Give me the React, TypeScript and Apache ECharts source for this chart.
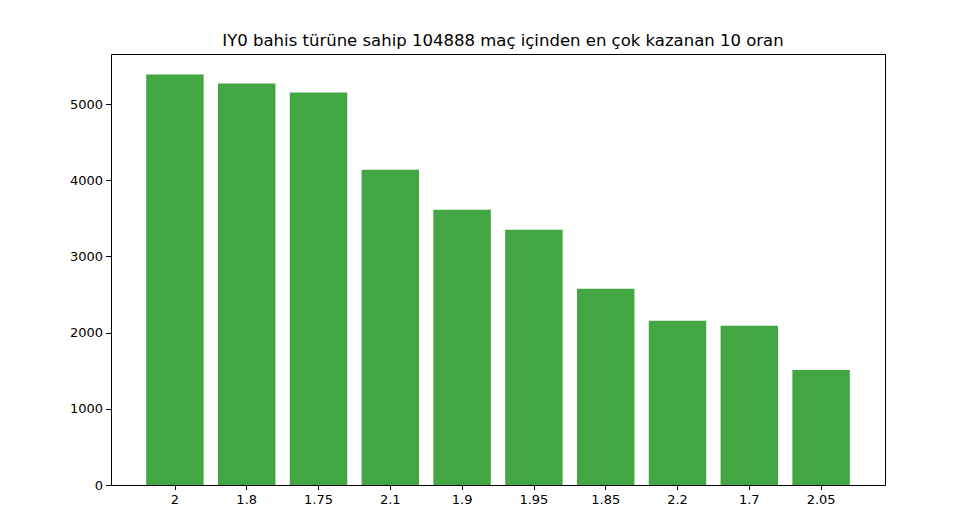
import React, { useEffect, useRef } from "react";
import * as echarts from "echarts";

const categories = ["2", "1.8", "1.75", "2.1", "1.9", "1.95", "1.85", "2.2", "1.7", "2.05"];
const counts = [5395, 5276, 5158, 4145, 3618, 3355, 2579, 2158, 2092, 1513];
const yTicks = [0, 1000, 2000, 3000, 4000, 5000];
const titleText = "IY0 bahis türüne sahip 104888 maç içinden en çok kazanan 10 oran";

export default function App() {
  const ref = useRef<HTMLDivElement>(null);
  useEffect(() => {
    if (!ref.current) return;
    const chart = echarts.init(ref.current, undefined, { renderer: "svg" });
    const font = "'DejaVu Sans', sans-serif";
    const yMax = Math.max(...counts) * 1.05;
    chart.setOption({
      animation: false,
      backgroundColor: "#ffffff",
      title: {
        text: titleText,
        left: 498,
        textAlign: "center",
        top: 27,
        textStyle: { fontFamily: font, fontSize: 16.5, fontWeight: "normal", color: "#000" },
      },
      grid: { left: 139, right: 112, top: 54, bottom: 40, containLabel: false },
      graphic: [
        {
          type: "rect",
          shape: { x: 111.5, y: 54.5, width: 774, height: 431 },
          style: { fill: "none", stroke: "#000", lineWidth: 1 },
          z: 100,
        },
      ],
      xAxis: {
        type: "category",
        data: categories,
        axisLine: { show: false },
        axisTick: { show: true, alignWithLabel: true, length: 5, lineStyle: { color: "#000" } },
        axisLabel: { fontFamily: font, fontSize: 13, color: "#000", margin: 8 },
      },
      yAxis: {
        type: "value",
        min: 0,
        max: yMax,
        interval: 1000,
        offset: 28,
        splitLine: { show: false },
        axisLine: { show: false },
        axisTick: { show: true, length: 5, lineStyle: { color: "#000" } },
        axisLabel: {
          fontFamily: font,
          fontSize: 13,
          color: "#000",
          margin: 8,
          showMaxLabel: false,
          formatter: (v: number) => (yTicks.includes(v) ? String(v) : ""),
        },
      },
      series: [
        {
          type: "bar",
          data: counts,
          barCategoryGap: "20%",
          itemStyle: { color: "#42A642" },
        },
      ],
    });
    return () => chart.dispose();
  }, []);
  return <div ref={ref} style={{ width: 969, height: 525, margin: -8 }} />;
}
